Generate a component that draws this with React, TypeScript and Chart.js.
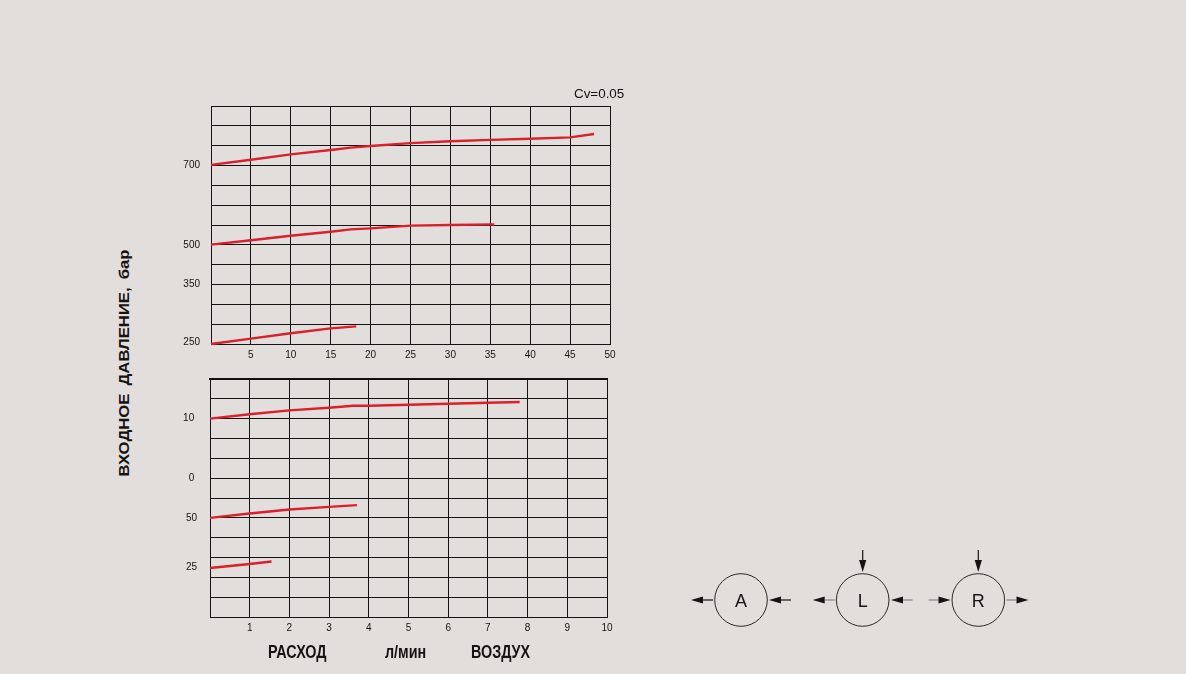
import { useEffect, useRef } from "react";
import { Chart, registerables } from "chart.js";

Chart.register(...registerables);

const BG = "#e2dedb";
const INK = "#151313";
const RED = "#da202c";
const FONT = '"Liberation Sans", Arial, sans-serif';

// y values are read in grid rows counted up from the bottom, the printed pressure scale is not linear
const hydFlow700 = [0, 5, 10, 15, 17.5, 20, 25, 30, 35, 40, 45, 48];
const hydRows700 = [9.03, 9.29, 9.56, 9.78, 9.9, 9.98, 10.13, 10.22, 10.29, 10.35, 10.42, 10.59];
const hydFlow500 = [0, 5, 10, 15, 17.5, 20, 25, 30, 35.5];
const hydRows500 = [5.01, 5.23, 5.46, 5.66, 5.78, 5.83, 5.97, 6.0, 6.03];
const hydFlow250 = [0, 5, 10, 15, 18.2];
const hydRows250 = [0, 0.27, 0.54, 0.79, 0.89];

const airFlow10 = [0, 1, 2, 3, 3.6, 4, 5, 6, 7, 7.8];
const airRows10 = [10.0, 10.22, 10.42, 10.55, 10.65, 10.65, 10.7, 10.75, 10.8, 10.84];
const airFlow50 = [0, 1, 2, 3, 3.7];
const airRows50 = [5.0, 5.22, 5.42, 5.55, 5.64];
const airFlow25 = [0, 1, 1.55];
const airRows25 = [2.47, 2.67, 2.8];

const hydTickRows = [0.1, 3, 5, 9];
const hydTickLabels = ["250", "350", "500", "700"];
const airTickRows = [2.5, 5, 7, 10];
const airTickLabels = ["25", "50", "0 ", "10 "];

const ROW_COUNT = 12;

type Curve = { flow: number[]; rows: number[] };

function makeChart(
  canvas: HTMLCanvasElement,
  curves: Curve[],
  xMax: number,
  xStep: number,
  tickRows: number[],
  tickLabels: string[],
  labelPad: number,
  topPad: number,
  rightPad: number,
  axisWidth: number,
  heavyTop: boolean
) {
  return new Chart(canvas, {
    type: "line",
    data: {
      datasets: curves.map((c) => ({
        data: c.flow.map((x, i) => ({ x, y: c.rows[i] })),
        borderColor: RED,
        borderWidth: 2.4,
        pointRadius: 0,
        tension: 0,
        clip: false,
      })),
    },
    options: {
      responsive: false,
      animation: false,
      layout: { padding: { top: topPad, right: rightPad, left: 0, bottom: 0 } },
      plugins: { legend: { display: false }, tooltip: { enabled: false } },
      scales: {
        x: {
          type: "linear",
          min: 0,
          max: xMax,
          afterFit: (s: any) => {
            s.height = 26;
          },
          ticks: {
            stepSize: xStep,
            autoSkip: false,
            maxRotation: 0,
            padding: 5,
            color: INK,
            font: { family: FONT, size: 10 },
            callback: (v: any) => (v === 0 ? "" : String(v)),
          },
          grid: { color: INK, lineWidth: 1, drawTicks: false },
          border: { color: INK, width: 1 },
        },
        xTop: {
          type: "linear",
          position: "top",
          display: heavyTop,
          min: -0.04,
          max: xMax - 0.04,
          afterFit: (s: any) => {
            s.height = 0;
          },
          ticks: { stepSize: xStep, display: false },
          grid: { drawOnChartArea: false, color: INK, tickLength: -4, tickWidth: 1 },
          border: { color: "#111", width: 2 },
        },
        y: {
          type: "linear",
          min: 0,
          max: ROW_COUNT,
          afterFit: (s: any) => {
            s.width = axisWidth;
          },
          afterBuildTicks: (s: any) => {
            const rows = Array.from({ length: ROW_COUNT + 1 }, (_, i) => i);
            const extra = tickRows.filter((r) => !rows.includes(r));
            s.ticks = [...rows, ...extra].map((value) => ({ value }));
          },
          ticks: {
            autoSkip: false,
            padding: labelPad,
            color: INK,
            font: { family: FONT, size: 10 },
            callback: (v: any) => {
              const i = tickRows.indexOf(v);
              return i >= 0 ? tickLabels[i] : "";
            },
          },
          grid: {
            drawTicks: false,
            lineWidth: 1,
            color: (ctx: any) => (Number.isInteger(ctx.tick?.value) ? INK : "transparent"),
          },
          border: { color: INK, width: 1 },
        },
      },
    },
  } as any);
}

function Arrow({ x1, y1, x2, y2, shaft = INK }: { x1: number; y1: number; x2: number; y2: number; shaft?: string }) {
  // head sits at x2,y2
  const len = Math.hypot(x2 - x1, y2 - y1);
  const ux = (x2 - x1) / len;
  const uy = (y2 - y1) / len;
  const bx = x2 - ux * 12;
  const by = y2 - uy * 12;
  return (
    <g>
      <line x1={x1} y1={y1} x2={bx} y2={by} stroke={shaft} strokeWidth={1.2} />
      <polygon
        points={`${x2},${y2} ${bx - uy * 3.6},${by + ux * 3.6} ${bx + uy * 3.6},${by - ux * 3.6}`}
        fill={INK}
      />
    </g>
  );
}

function Valve({ cx, label }: { cx: number; label: string }) {
  return (
    <g>
      <circle cx={cx} cy={600} r={26.3} fill="none" stroke="#2a2828" strokeWidth={1} />
      <text x={cx} y={606.5} textAnchor="middle" fontFamily={FONT} fontSize={18} fill={INK}>
        {label}
      </text>
    </g>
  );
}

const textBase = { position: "absolute", fontFamily: FONT, color: INK, whiteSpace: "nowrap" } as const;
const footer = {
  ...textBase,
  top: 643,
  fontWeight: 700,
  fontSize: 17.5,
  lineHeight: "18px",
  transform: "scaleX(0.82)",
  transformOrigin: "left center",
} as const;

export default function App() {
  const hydRef = useRef<HTMLCanvasElement>(null);
  const airRef = useRef<HTMLCanvasElement>(null);

  useEffect(() => {
    if (!hydRef.current || !airRef.current) return;
    const hyd = makeChart(
      hydRef.current,
      [
        { flow: hydFlow700, rows: hydRows700 },
        { flow: hydFlow500, rows: hydRows500 },
        { flow: hydFlow250, rows: hydRows250 },
      ],
      50,
      5,
      hydTickRows,
      hydTickLabels,
      11,
      16,
      30,
      51,
      false
    );
    const air = makeChart(
      airRef.current,
      [
        { flow: airFlow10, rows: airRows10 },
        { flow: airFlow50, rows: airRows50 },
        { flow: airFlow25, rows: airRows25 },
      ],
      10,
      1,
      airTickRows,
      airTickLabels,
      13,
      12,
      33,
      50,
      true
    );
    return () => {
      hyd.destroy();
      air.destroy();
    };
  }, []);

  return (
    <div style={{ position: "absolute", left: 0, top: 0, width: 1186, height: 674, background: BG, overflow: "hidden" }}>
      <canvas ref={hydRef} width={480} height={281} style={{ position: "absolute", left: 160, top: 89, width: 480, height: 281 }} />
      <canvas ref={airRef} width={480} height={283} style={{ position: "absolute", left: 160, top: 360, width: 480, height: 283 }} />

      <div style={{ ...textBase, left: 574, top: 86, fontSize: 13.4, lineHeight: "15px" }}>Cv=0.05</div>
      <div
        style={{
          ...textBase,
          left: 124,
          top: 362.5,
          fontWeight: 700,
          fontSize: 14.5,
          wordSpacing: 3,
          transform: "translate(-50%, -50%) rotate(-90deg) scaleX(1.15)",
        }}
      >
        ВХОДНОЕ ДАВЛЕНИЕ, бар
      </div>
      <div style={{ ...footer, left: 268 }}>РАСХОД</div>
      <div style={{ ...footer, left: 385 }}>л/мин</div>
      <div style={{ ...footer, left: 471 }}>ВОЗДУХ</div>

      <svg width={1186} height={674} style={{ position: "absolute", left: 0, top: 0 }}>
        <Valve cx={741} label="A" />
        <Arrow x1={713} y1={600} x2={691} y2={600} />
        <Arrow x1={791} y1={600} x2={769} y2={600} />

        <Valve cx={862.7} label="L" />
        <Arrow x1={862.7} y1={550} x2={862.7} y2={572} />
        <Arrow x1={835} y1={600} x2={812.7} y2={600} shaft="#8a8785" />
        <Arrow x1={912.5} y1={600} x2={891} y2={600} shaft="#8a8785" />

        <Valve cx={978.3} label="R" />
        <Arrow x1={978.3} y1={550} x2={978.3} y2={572} />
        <Arrow x1={928.5} y1={600} x2={950.5} y2={600} shaft="#8a8785" />
        <Arrow x1={1006.5} y1={600} x2={1028.5} y2={600} shaft="#8a8785" />
      </svg>
    </div>
  );
}
